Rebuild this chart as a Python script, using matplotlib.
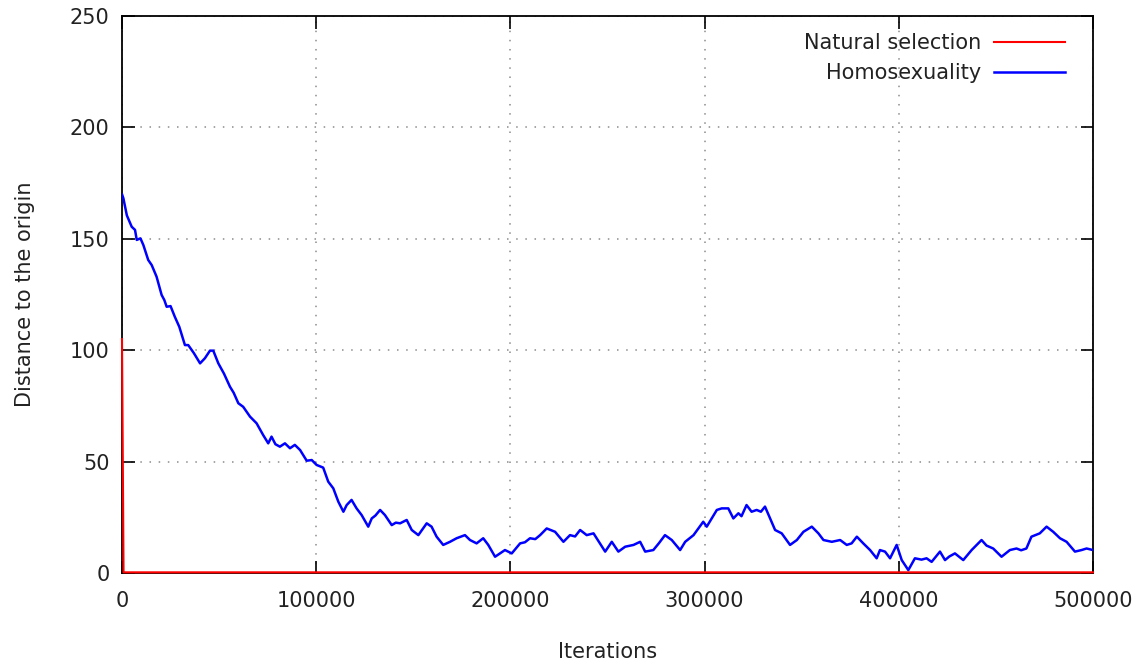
import matplotlib
matplotlib.use("Agg")
import matplotlib.pyplot as plt
import numpy as np

# ----------------------------------------------------------------------------
#  DATA
# ----------------------------------------------------------------------------
# natural selection collapses to the origin almost immediately
natural_iter = [0, 800, 500000]
natural_dist = [105, 0.3, 0.3]

# homosexuality run, distance to the origin per iteration
homo_iter = [0, 700, 2500, 5000, 6700, 7600, 9500, 11000, 13500, 15300, 17800, 20400,
             21800, 23000, 25000, 27200, 29500, 32400, 34100, 37000, 40200, 42700, 45300, 47000,
             49600, 52500, 55600, 57500, 59900, 62400, 65900, 69300, 72700, 75300, 77000, 79000, 81300,
             83900, 86500, 89000, 91700, 95100, 97700, 100200, 103600, 106200, 108800,
             111400, 114000, 115700, 118200, 120800, 123400, 126800, 128600, 130500, 132900, 135400,
             138900, 141000, 143200, 146600, 149200, 152600, 156900, 159400, 162000, 165400, 168900,
             172300, 176600, 179200, 182600, 186000, 188600, 192100, 194700, 197200, 200700,
             205000, 207500, 210100, 212800, 215300, 218700, 223000, 227300, 230700, 233300, 235900, 239300, 242800,
             248800, 252200, 255600, 259100, 263400, 266800, 269400, 273600, 276500, 279600, 283100,
             287400, 290000, 294300, 299300, 301100, 306300, 308800, 312200, 314800, 317400,
             319000, 321600, 324200, 326800, 329000, 331100, 336300, 339700, 344000, 347500,
             350900, 355200, 358600, 361200, 365500, 369800, 373200, 375700, 378400, 381700,
             385200, 388600, 390300, 392900, 395500, 398900, 401500, 404900, 408300, 411700,
             414300, 416900, 421200, 423800, 426000, 428900, 433200, 437500, 442600, 445200, 448600,
             452900, 457200, 460600, 463000, 465700, 468300, 472600, 476100, 479500, 483000, 486400,
             490700, 494100, 496700, 500000]
homo_dist = [170, 168.2, 160.5, 155.4, 154, 149.5, 150.2, 147.2, 140.5, 138.2, 133, 124.8,
             122.5, 119.5, 119.8, 115, 110.5, 102.3, 102.3, 98.7, 94.1, 96.4, 99.8, 99.8,
             94.1, 89.5, 83.6, 80.9, 76.2, 74.6, 70.2, 67.2, 61.9, 58.2, 61.2, 57.8, 56.7,
             58.2, 56, 57.5, 55.2, 50.4, 50.7, 48.5, 47.3, 41, 38,
             32, 27.5, 30.5, 32.8, 29, 26, 20.8, 24.5, 25.8, 28.3, 26,
             21.5, 22.6, 22.3, 23.8, 19.3, 17, 22.3, 20.8, 16.3, 12.6, 14,
             15.6, 17, 14.8, 13.3, 15.6, 12.6, 7.3, 8.8, 10.3, 8.8,
             13.3, 13.8, 15.6, 15.2, 17, 20, 18.5, 14, 17, 16.4, 19.3, 17, 17.8,
             9.6, 14, 9.6, 11.8, 12.6, 14, 9.6, 10.3, 13.4, 17, 14.8,
             10.3, 14, 17, 23, 20.8, 28.3, 29, 29, 24.5, 26.8,
             25.5, 30.5, 27.5, 28.3, 27.5, 29.8, 19.3, 17.8, 12.6, 14.8,
             18.5, 20.8, 17.8, 14.8, 14, 14.8, 12.6, 13.3, 16.3, 13.3,
             10.3, 6.6, 10.3, 9.6, 6.6, 12.6, 5.8, 1.3, 6.6, 6,
             6.6, 5, 9.6, 5.8, 7.4, 8.8, 5.8, 10.3, 14.8, 12.3, 11,
             7.3, 10.3, 11, 10.2, 11, 16.3, 17.8, 20.8, 18.5, 15.6, 14,
             9.6, 10.3, 11, 10.3]

x_ticks = [0, 100000, 200000, 300000, 400000, 500000]
y_ticks = [0, 50, 100, 150, 200, 250]

# ----------------------------------------------------------------------------
#  PLOT
# ----------------------------------------------------------------------------
font_size = 15
plt.rcParams.update({'font.family': 'DejaVu Sans',
                     'font.size': font_size,
                     'text.color': '#222222',
                     'axes.labelcolor': '#222222',
                     'xtick.color': 'black',
                     'ytick.color': 'black',
                     'xtick.labelcolor': '#222222',
                     'ytick.labelcolor': '#222222'})

fig = plt.figure(figsize=(11.45, 6.64), dpi=100)
ax = fig.add_axes([122 / 1145, 91 / 664, (1093 - 122) / 1145, (573 - 16) / 664])

ax.plot(homo_iter, homo_dist, color='#0000ff', linewidth=1.8, label='Homosexuality', zorder=3)
ax.plot(natural_iter, natural_dist, color='#ff0000', linewidth=1.5, label='Natural selection',
        zorder=4, clip_on=False)

ax.set_xlim(0, 500000)
ax.set_ylim(0, 250)
ax.set_xticks(x_ticks)
ax.set_yticks(y_ticks)
ax.set_xticklabels([str(v) for v in x_ticks])
ax.set_yticklabels([str(v) for v in y_ticks])

ax.grid(True, color='#8c8c8c', linestyle=(0, (1, 5)), linewidth=1.1)
ax.tick_params(direction='in', length=9, width=1.2, top=True, right=True)
ax.tick_params(axis='x', pad=13)
ax.tick_params(axis='y', pad=9)
for spine in ax.spines.values():
    spine.set_linewidth(1.3)
    spine.set_color('black')

ax.set_xlabel('Iterations', labelpad=22)
ax.set_ylabel('Distance to the origin', labelpad=25)

# legend on the right, labels right-aligned against the line samples
handles, labels = ax.get_legend_handles_labels()
leg = ax.legend(handles[::-1], labels[::-1], loc='upper right',
                bbox_to_anchor=(1065 / 1145, 1 - 33 / 664), bbox_transform=fig.transFigure,
                frameon=False, markerfirst=False, handlelength=3.4, handletextpad=0.6,
                labelspacing=0.5, borderpad=0, borderaxespad=0)

fig.savefig('out.png', dpi=100)
